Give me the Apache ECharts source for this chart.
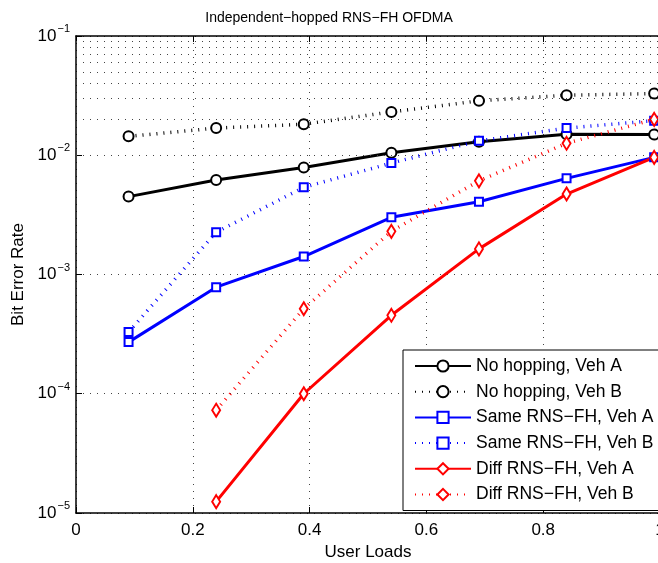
<!DOCTYPE html>
<html>
<head>
<meta charset="utf-8">
<script src="https://cdn.jsdelivr.net/npm/echarts@6/dist/echarts.min.js"></script>
<style>
html,body{margin:0;padding:0;background:#fff;}
#chart{width:658px;height:563px;}
</style>
</head>
<body>
<div id="chart"></div>
<script>
// ---- data ----
var titleText = 'Independent\u2212hopped RNS\u2212FH OFDMA';
var xName = 'User Loads';
var yName = 'Bit Error Rate';
var xLoads = [0.09, 0.24, 0.39, 0.54, 0.69, 0.84, 0.99];
var seriesNames = ['No hopping, Veh A', 'No hopping, Veh B', 'Same RNS\u2212FH, Veh A', 'Same RNS\u2212FH, Veh B', 'Diff RNS\u2212FH, Veh A', 'Diff RNS\u2212FH, Veh B'];
var noHopA = [4.5e-3, 6.2e-3, 7.9e-3, 1.05e-2, 1.30e-2, 1.5e-2, 1.49e-2];
var noHopB = [1.44e-2, 1.69e-2, 1.82e-2, 2.31e-2, 2.86e-2, 3.19e-2, 3.29e-2];
var sameA = [2.71e-4, 7.83e-4, 1.415e-3, 3.02e-3, 4.08e-3, 6.4e-3, 9.6e-3];
var sameB = [3.29e-4, 2.26e-3, 5.38e-3, 8.6e-3, 1.32e-2, 1.69e-2, 1.95e-2];
var diffA = [null, 1.245e-5, 1.0e-4, 4.55e-4, 1.64e-3, 4.73e-3, 9.6e-3];
var diffB = [null, 7.28e-5, 5.16e-4, 2.3e-3, 6.1e-3, 1.26e-2, 2.0e-2];
var xTicks = [0, 0.2, 0.4, 0.6, 0.8, 1];
var yDecades = [-5, -4, -3, -2, -1];
var minorMultipliers = [2, 3, 4, 5, 6, 7, 8, 9];

// ---- build ----
var FONT = '"Liberation Sans", Arial, Helvetica, sans-serif';
function pairs(arr) {
  var out = [];
  for (var i = 0; i < xLoads.length; i++) {
    if (arr[i] != null) out.push([xLoads[i], arr[i]]);
  }
  return out;
}
var minorLines = [];
for (var d = 0; d < yDecades.length - 1; d++) {
  for (var m = 0; m < minorMultipliers.length; m++) {
    minorLines.push({ yAxis: minorMultipliers[m] * Math.pow(10, yDecades[d]) });
  }
}
var dotted = [1, 6];
function mkSeries(name, data, color, symbol, size, isSolid, extra) {
  var s = {
    name: name,
    type: 'line',
    data: pairs(data),
    symbol: symbol,
    symbolSize: size,
    showSymbol: true,
    clip: true,
    lineStyle: { color: color, width: isSolid ? 3 : 3.5, type: isSolid ? 'solid' : dotted, cap: 'butt' },
    itemStyle: { color: color, borderColor: color, borderWidth: 3 },
    emphasis: { disabled: true },
    animation: false
  };
  if (extra) for (var k in extra) s[k] = extra[k];
  return s;
}
var series = [
  mkSeries(seriesNames[0], noHopA, '#000000', 'emptyCircle', 10, true, {
    markLine: {
      silent: true, symbol: 'none', animation: false,
      label: { show: false },
      lineStyle: { color: '#444', width: 1, type: [1, 6] },
      data: minorLines
    }
  }),
  mkSeries(seriesNames[1], noHopB, '#000000', 'emptyCircle', 10, false),
  mkSeries(seriesNames[2], sameA, '#0000ff', 'emptyRect', 8, true),
  mkSeries(seriesNames[3], sameB, '#0000ff', 'emptyRect', 8, false),
  mkSeries(seriesNames[4], diffA, '#ff0000', 'emptyDiamond', [8, 13], true),
  mkSeries(seriesNames[5], diffB, '#ff0000', 'emptyDiamond', [8, 13], false)
];

var chart = echarts.init(document.getElementById('chart'), null, { renderer: 'canvas' });
chart.setOption({
  animation: false,
  backgroundColor: '#fff',
  textStyle: { fontFamily: FONT },
  title: {
    text: titleText,
    left: 'center',
    top: 6,
    textStyle: { fontFamily: FONT, fontSize: 14, fontWeight: 'normal', color: '#000' }
  },
  grid: { left: 76, top: 36, width: 584, height: 477, show: false, containLabel: false, outerBoundsMode: 'none' },
  legend: {
    orient: 'vertical',
    left: 403,
    top: 350,
    padding: [7, 12, 7, 11],
    itemWidth: 56,
    itemHeight: 14,
    itemGap: 7.7,
    backgroundColor: '#fff',
    borderColor: '#000',
    borderWidth: 1,
    borderRadius: 0,
    selectedMode: false,
    textStyle: { fontFamily: FONT, fontSize: 17.5, color: '#000', lineHeight: 18 },
    data: seriesNames
  },
  xAxis: [{
    type: 'value', min: 0, max: 1, interval: 0.2,
    name: xName, nameLocation: 'middle', nameGap: 29,
    nameTextStyle: { fontFamily: FONT, fontSize: 17, color: '#000' },
    axisLine: { show: true, lineStyle: { color: '#000', width: 1.5 } },
    axisTick: { show: true, inside: true, length: 6, lineStyle: { color: '#000', width: 1 } },
    axisLabel: { fontFamily: FONT, fontSize: 17, color: '#000', margin: 9,
      formatter: function (v) { return String(Math.round(v * 10) / 10); } },
    splitLine: { show: true, lineStyle: { color: '#444', width: 1, type: [1, 6] } }
  }, {
    type: 'value', min: 0, max: 1, interval: 0.2, position: 'top',
    axisLine: { show: true, onZero: false, lineStyle: { color: '#000', width: 1.5 } },
    axisTick: { show: true, inside: true, length: 6, lineStyle: { color: '#000', width: 1 } },
    axisLabel: { show: false },
    splitLine: { show: false }
  }],
  yAxis: {
    type: 'log', logBase: 10, min: 1e-5, max: 1e-1,
    name: yName, nameLocation: 'middle', nameGap: 46, nameRotate: 90,
    nameTextStyle: { fontFamily: FONT, fontSize: 17, color: '#000' },
    axisLine: { show: true, lineStyle: { color: '#000', width: 1.5 } },
    axisTick: { show: true, inside: true, length: 6, lineStyle: { color: '#000', width: 1 } },
    axisLabel: {
      margin: 6,
      formatter: function (v) {
        var e = Math.round(Math.log(v) / Math.LN10);
        return '{b|10}{s|' + (e < 0 ? '\u2212' + (-e) : e) + '}';
      },
      rich: {
        b: { fontFamily: FONT, fontSize: 17, color: '#000', lineHeight: 20 },
        s: { fontFamily: FONT, fontSize: 11, color: '#000', lineHeight: 11, padding: [0, 0, 14, 1] }
      }
    },
    splitLine: { show: true, lineStyle: { color: '#444', width: 1, type: [1, 6] } }
  },
  series: series
});
</script>
</body>
</html>
